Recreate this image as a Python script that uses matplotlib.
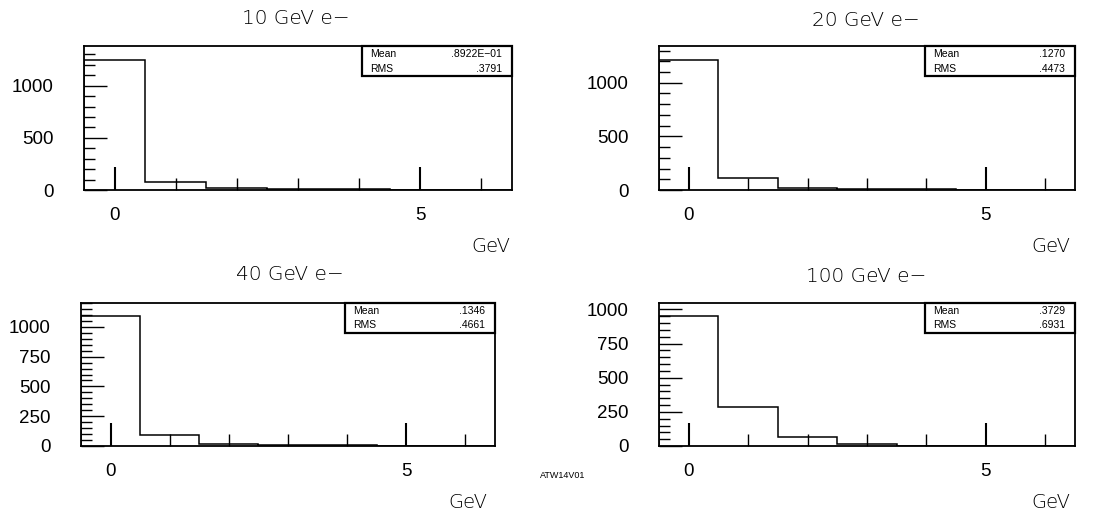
import matplotlib
matplotlib.use('Agg')
import matplotlib.pyplot as plt
import numpy as np
from matplotlib.ticker import MultipleLocator, FixedLocator

# Energy deposit histograms, one per beam energy
bin_centers = [0, 1, 2, 3, 4, 5, 6]
titles = ['10 GeV e\u2212', '20 GeV e\u2212', '40 GeV e\u2212', '100 GeV e\u2212']
counts_10 = [1250, 74, 22, 8, 8, 0, 0]
counts_20 = [1212, 108, 22, 8, 8, 0, 0]
counts_40 = [1089, 93, 15, 5, 5, 0, 0]
counts_100 = [951, 282, 66, 12, 3, 1, 0]
means = ['.8922E\u221201', '.1270', '.1346', '.3729']
rms = ['.3791', '.4473', '.4661', '.6931']
ymax = [1380, 1342, 1200, 1047]
y_major = [500, 500, 250, 250]
y_minor = [100, 100, 50, 50]

W, H = 1095, 515
fig = plt.figure(figsize=(W / 100, H / 100), dpi=100)

# axes boxes in pixels: left, top, right, bottom
boxes = [(84, 46, 512, 190), (659, 46, 1075, 190),
         (81, 303, 495, 446), (659, 303, 1075, 446)]
title_pos = [(296, 18), (866, 20), (290, 274), (866, 276)]
gev_pos = [(510, 247), (1070, 247), (487, 502), (1070, 502)]

all_counts = [counts_10, counts_20, counts_40, counts_100]
num_font = 'Liberation Sans'

for i, (l, t, r, b) in enumerate(boxes):
    ax = fig.add_axes([l / W, 1 - b / H, (r - l) / W, (b - t) / H])
    counts = all_counts[i]
    edges = np.array(bin_centers + [bin_centers[-1] + 1]) - 0.5
    ax.stairs(counts, edges, color='black', linewidth=1.1)
    ax.set_xlim(-0.5, 6.5)
    ax.set_ylim(0, ymax[i])

    for s in ax.spines.values():
        s.set_linewidth(1.3)

    ax.xaxis.set_major_locator(FixedLocator([0, 5]))
    ax.xaxis.set_minor_locator(FixedLocator([1, 2, 3, 4, 6]))
    ax.yaxis.set_major_locator(MultipleLocator(y_major[i]))
    ax.yaxis.set_minor_locator(MultipleLocator(y_minor[i]))
    ax.tick_params(axis='x', which='major', direction='in', length=16.5, width=1.5,
                   pad=12, labelsize=13.5, top=False)
    ax.tick_params(axis='x', which='minor', direction='in', length=8.5, width=1.0, top=False)
    ax.tick_params(axis='y', which='major', direction='in', length=16.5, width=1.0,
                   pad=22, labelsize=13.5, right=False)
    ax.tick_params(axis='y', which='minor', direction='in', length=8, width=1.0, right=False)
    for lab in ax.get_xticklabels() + ax.get_yticklabels():
        lab.set_fontfamily(num_font)

    # statistics box in the top right corner
    bw = 150 / (r - l)
    bh = 30 / (b - t)
    ax.add_patch(plt.Rectangle((1 - bw, 1 - bh), bw, bh, transform=ax.transAxes,
                               fill=False, edgecolor='black', linewidth=1.6,
                               clip_on=False, zorder=5))
    px = 1 / (r - l)
    for row, (name, val) in enumerate([('Mean', means[i]), ('RMS', rms[i])]):
        yy = 1 - bh * (0.27 + 0.48 * row)
        ax.text(1 - bw + 8 * px, yy, name, transform=ax.transAxes, fontsize=7.5,
                family=num_font, va='center', ha='left')
        ax.text(1 - 10 * px, yy, val, transform=ax.transAxes, fontsize=7.5,
                family=num_font, va='center', ha='right')

    tx, ty = title_pos[i]
    fig.text(tx / W, 1 - ty / H, titles[i], ha='center', va='center', fontsize=14.5,
             family='DejaVu Sans', fontweight='light')
    gx, gy = gev_pos[i]
    fig.text(gx / W, 1 - gy / H, 'GeV', ha='right', va='center', fontsize=14,
             family='DejaVu Sans', fontweight='light')

fig.text(563 / W, 1 - 475 / H, 'ATW14V01', ha='center', va='center', fontsize=6.5,
         family=num_font)

fig.savefig('out.png', dpi=100, facecolor='white')
